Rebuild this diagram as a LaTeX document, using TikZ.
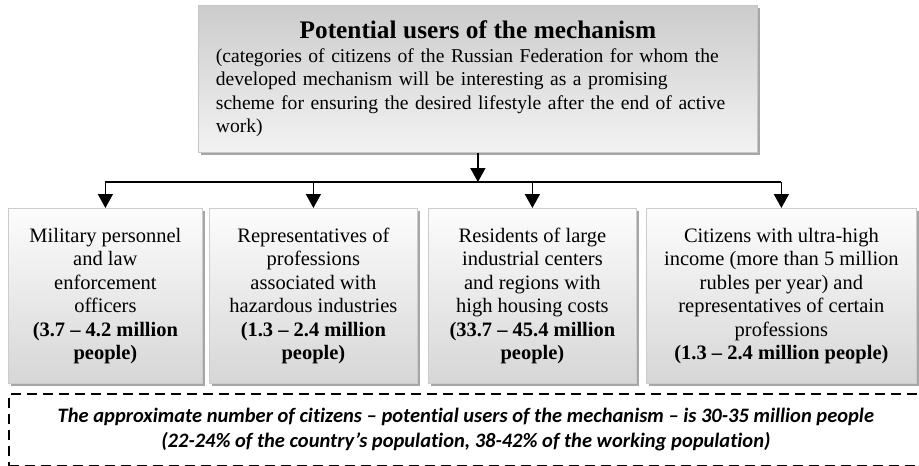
\documentclass[tikz,border=0pt]{standalone}
\usepackage{fontspec}
\setmainfont{Liberation Serif}
\newfontfamily\notefont[Ligatures={TeX,NoCommon}]{Carlito}
\usetikzlibrary{arrows.meta,shadows}
\tikzset{
        x=1pt, y=-1pt,
        boxshadow/.style={drop shadow={shadow xshift=3pt, shadow yshift=-3pt, fill=gray!70, opacity=1}},
        headbox/.style={draw=gray!45, line width=0.8pt, top color=gray!40, bottom color=gray!10, boxshadow,
          anchor=north west, inner xsep=17.5pt, inner ysep=4pt, text width=524pt, minimum height=147pt,
          align=left, font=\fontsize{19.6}{23.5}\selectfont},
        groupbox/.style={draw=gray!40, line width=0.8pt, top color=gray!2, bottom color=gray!32, boxshadow,
          anchor=north west, align=center, minimum height=175pt, inner sep=2pt,
          font=\fontsize{20.5}{23.5}\selectfont},
        notebox/.style={draw=black, line width=1.8pt, dash pattern=on 10pt off 6pt, anchor=north west,
          minimum width=914pt, minimum height=72pt, align=center,
          font=\notefont\bfseries\itshape\fontsize{20.5}{25}\selectfont},
        link/.style={line width=1.6pt, -{Triangle[width=15pt,length=14pt]}},
        bus/.style={line width=1.6pt}
          }
\begin{document}
\begin{tikzpicture}
        \useasboundingbox (0,0) rectangle (919,466);
        \node[headbox] (top) at (198,5) {{\centering\fontsize{25.3}{28}\selectfont\bfseries Potential users of the mechanism\par}
          (categories of citizens of the Russian Federation for whom the\\
          developed mechanism will be interesting as a promising\\
          scheme for ensuring the desired lifestyle after the end of active\\
          work)};
        \node[groupbox, minimum width=194pt] (military) at (8,208)
          {Military personnel\\and law\\enforcement\\officers\\\textbf{(3.7 -- 4.2 million}\\\textbf{people)}};
        \node[groupbox, minimum width=208pt] (hazard) at (209,208)
          {Representatives of\\professions\\associated with\\hazardous industries\\\textbf{(1.3 -- 2.4 million}\\\textbf{people)}};
        \node[groupbox, minimum width=208pt] (cities) at (428,208)
          {Residents of large\\industrial centers\\and regions with\\high housing costs\\\textbf{(33.7 -- 45.4 million}\\\textbf{people)}};
        \node[groupbox, minimum width=270pt] (income) at (646,208)
          {Citizens with ultra-high\\income (more than 5 million\\rubles per year) and\\representatives of certain\\professions\\\textbf{(1.3 -- 2.4 million people)}};
        \node[notebox] (total) at (8,393)
          {The approximate number of citizens – potential users of the mechanism – is 30-35 million people\\
           (22-24\% of the country’s population, 38-42\% of the working population)};
        % arrows from the head box
        \coordinate (fork) at (top.south |- 0,182);
        \draw[link] (top.south) -- (fork);
        \draw[bus] (military.north |- fork) -- (income.north |- fork);
        \foreach \grp in {military,hazard,cities,income}
          \draw[link] (\grp.north |- fork) -- (\grp.north);
\end{tikzpicture}
\end{document}
